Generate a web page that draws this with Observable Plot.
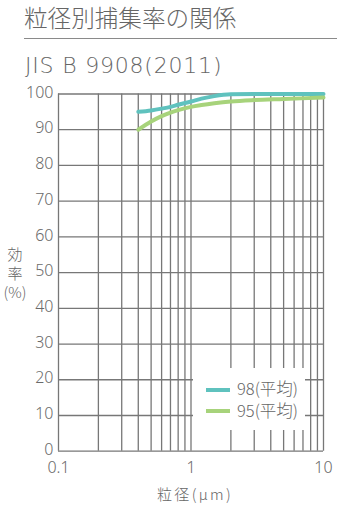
<!DOCTYPE html>
<html>
<head>
<meta charset="utf-8">
<script src="https://cdn.jsdelivr.net/npm/d3@7"></script>
<script src="https://cdn.jsdelivr.net/npm/@observablehq/plot@0.6"></script>
<style>
  html, body { margin: 0; padding: 0; background: #fff; }
  body { width: 337px; height: 507px; position: relative; overflow: hidden;
         font-family: "Noto Sans CJK JP", "Noto Sans", sans-serif; color: #666; font-weight: 300; }
  #title { position: absolute; left: 24px; top: 2px; font-size: 23.6px; line-height: 30px; }
  #rule { position: absolute; left: 24px; top: 37.5px; width: 313px; height: 0; border-top: 1.5px solid #8a8a8a; }
  #subtitle { position: absolute; left: 25px; top: 51px; font-size: 22px; line-height: 30px; font-family: "DejaVu Sans", sans-serif; font-weight: 200; letter-spacing: 0.8px; white-space: nowrap; }
  #chart { position: absolute; left: 0; top: 80px; }
  #ylabel { position: absolute; left: 0; top: 244px; width: 30px; text-align: center; font-size: 15px; line-height: 19px; }
  #xlabel { position: absolute; left: 0; width: 390px; top: 484px; text-align: center; font-size: 15px; line-height: 20px; letter-spacing: 2.3px; }
  #legend { position: absolute; left: 193px; top: 368px; width: 112px; height: 62px; background: #fff; }
  .item { position: absolute; left: 13px; height: 22px; font-size: 16.5px; line-height: 22px; white-space: nowrap; }
  .sw { display: inline-block; width: 24px; height: 4px; vertical-align: middle; margin-right: 7px; position: relative; top: -1px; }
</style>
</head>
<body>
<div id="title">粒径別捕集率の関係</div>
<div id="rule"></div>
<div id="subtitle">JIS B 9908(2011)</div>
<div id="chart"></div>
<div id="ylabel">効<br>率<br>(%)</div>
<div id="xlabel">粒径(μm)</div>
<div id="legend"></div>
<script>
const sizes = [0.4, 0.5, 0.6, 0.7, 0.8, 1, 1.2, 1.5, 2, 3, 5, 10];
const eff98 = [95, 95.4, 95.9, 96.4, 97.0, 97.9, 98.7, 99.4, 99.9, 100, 100, 100];
const eff95 = [90, 92.3, 93.8, 94.8, 95.5, 96.4, 96.9, 97.4, 97.9, 98.3, 98.6, 99.0];
const seriesNames = ["98(平均)", "95(平均)"];
const seriesColors = ["#5fc2be", "#a7d37b"];
const xTicks = [0.1, 1, 10];
const xGrid = [0.1,0.2,0.3,0.4,0.5,0.6,0.7,0.8,0.9,1,2,3,4,5,6,7,8,9,10];
const yTicks = [0,10,20,30,40,50,60,70,80,90,100];

const rows = [];
sizes.forEach((s, i) => {
  rows.push({size: s, eff: eff98[i], series: seriesNames[0]});
  rows.push({size: s, eff: eff95[i], series: seriesNames[1]});
});

const chart = Plot.plot({
  width: 337,
  height: 427,
  marginLeft: 58,
  marginRight: 14,
  marginTop: 13.5,
  marginBottom: 56.3,
  style: {fontFamily: "'Noto Sans', sans-serif", fontSize: "16px", color: "#6a6a6a", background: "transparent"},
  x: {type: "log", domain: [0.1, 10], ticks: xTicks, tickFormat: d => String(d), label: null},
  y: {domain: [0, 100], ticks: yTicks, label: null},
  color: {domain: seriesNames, range: seriesColors},
  marks: [
    Plot.ruleX(xGrid, {stroke: "#777", strokeWidth: 1.3}),
    Plot.ruleY(yTicks, {stroke: "#777", strokeWidth: 1.3}),
    Plot.axisX({ticks: xTicks, tickSize: 0, tickPadding: 10, tickFormat: d => String(d), fontSize: 16, fill: "#6a6a6a", label: null}),
    Plot.axisY({ticks: yTicks, tickSize: 0, tickPadding: 5, dy: -1.5, fontSize: 16, fill: "#6a6a6a", label: null}),
    Plot.line(rows, {x: "size", y: "eff", stroke: "series", z: "series", strokeWidth: 4, curve: "monotone-x"})
  ]
});
document.getElementById("chart").appendChild(chart);

const leg = document.getElementById("legend");
seriesNames.forEach((n, i) => {
  const d = document.createElement("div");
  d.className = "item";
  d.style.top = (9 + i * 21.6) + "px";
  d.innerHTML = `<span class="sw" style="background:${seriesColors[i]}"></span>${n}`;
  leg.appendChild(d);
});
</script>
</body>
</html>
